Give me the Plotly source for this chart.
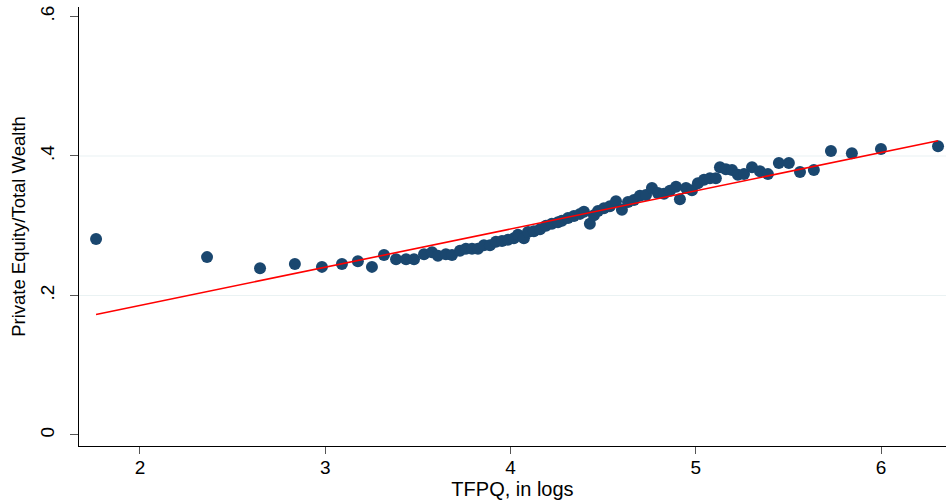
import plotly.graph_objects as go

# Data
tfpq_log = [1.763, 2.362, 2.648, 2.836, 2.982, 3.090, 3.176, 3.252, 3.317, 3.382,
            3.436, 3.479, 3.533, 3.576, 3.608, 3.651, 3.684, 3.727, 3.759, 3.792,
            3.824, 3.856, 3.889, 3.921, 3.954, 3.986, 4.018, 4.040, 4.072, 4.094,
            4.126, 4.159, 4.191, 4.223, 4.256, 4.277, 4.310, 4.342, 4.375, 4.396,
            4.428, 4.450, 4.472, 4.504, 4.536, 4.569, 4.601, 4.634, 4.666, 4.698,
            4.731, 4.763, 4.795, 4.828, 4.860, 4.893, 4.914, 4.947, 4.979, 5.011,
            5.044, 5.076, 5.108, 5.130, 5.162, 5.195, 5.227, 5.260, 5.303, 5.346,
            5.389, 5.448, 5.502, 5.562, 5.637, 5.729, 5.842, 5.999, 6.307]
pe_share = [0.281, 0.255, 0.239, 0.245, 0.241, 0.245, 0.249, 0.241, 0.258, 0.252,
            0.252, 0.252, 0.259, 0.262, 0.257, 0.259, 0.258, 0.264, 0.267, 0.267,
            0.267, 0.272, 0.272, 0.277, 0.278, 0.280, 0.282, 0.287, 0.282, 0.291,
            0.292, 0.295, 0.300, 0.303, 0.305, 0.307, 0.311, 0.314, 0.317, 0.320,
            0.303, 0.315, 0.321, 0.325, 0.328, 0.335, 0.323, 0.334, 0.337, 0.343,
            0.344, 0.354, 0.347, 0.346, 0.350, 0.356, 0.338, 0.354, 0.351, 0.361,
            0.366, 0.368, 0.368, 0.384, 0.381, 0.380, 0.373, 0.374, 0.384, 0.378,
            0.374, 0.390, 0.390, 0.377, 0.380, 0.407, 0.404, 0.410, 0.414]

fit_intercept = 0.0761
fit_slope = 0.0548

x_tick_vals = [2, 3, 4, 5, 6]
x_tick_text = ["2", "3", "4", "5", "6"]
y_tick_vals = [0, 0.2, 0.4, 0.6]
y_tick_text = ["0", ".2", ".4", ".6"]
grid_levels = [0.2, 0.4]

FONT = "Liberation Sans, Arial, Helvetica, sans-serif"
NAVY = "#1a476f"

x_lo, x_hi = min(tfpq_log), max(tfpq_log)
fit_x = [x_lo, x_hi]
fit_y = [fit_intercept + fit_slope * v for v in fit_x]

fig = go.Figure()
fig.add_trace(go.Scatter(
    x=tfpq_log, y=pe_share, mode="markers",
    marker=dict(color=NAVY, size=12, line=dict(width=0)),
    showlegend=False, hoverinfo="x+y"))
fig.add_trace(go.Scatter(
    x=fit_x, y=fit_y, mode="lines",
    line=dict(color="#ff0000", width=1.6),
    showlegend=False))

for g in grid_levels:
    fig.add_shape(type="line", xref="paper", yref="y", x0=0, x1=1, y0=g, y1=g,
                  line=dict(color="#eaf2f3", width=1.2), layer="below")

fig.update_layout(
    width=946, height=500,
    margin=dict(l=79, r=0, t=7, b=54),
    paper_bgcolor="white", plot_bgcolor="white",
    font=dict(family=FONT, color="black"),
    xaxis=dict(
        range=[1.671, 6.350], tickvals=x_tick_vals, ticktext=x_tick_text,
        showgrid=False, zeroline=False, showline=True, linecolor="black", linewidth=1.2,
        ticks="outside", ticklen=7, tickcolor="#555555", tickwidth=1.2,
        ticklabelstandoff=-3,
        tickfont=dict(size=19, family=FONT),
        title=dict(text="TFPQ, in logs", font=dict(size=20, family=FONT), standoff=0),
    ),
    yaxis=dict(
        range=[-0.0158, 0.6136], tickvals=y_tick_vals, ticktext=y_tick_text,
        showgrid=False, zeroline=False, showline=True, linecolor="black", linewidth=1.2,
        ticks="outside", ticklen=8, tickcolor="#555555", tickwidth=1.2,
        tickangle=-90, ticklabelstandoff=8,
        tickfont=dict(size=19, family=FONT),
        title=dict(text="Private Equity/Total Wealth", font=dict(size=18.5, family=FONT), standoff=6),
    ),
)

fig.write_html("out.html")
